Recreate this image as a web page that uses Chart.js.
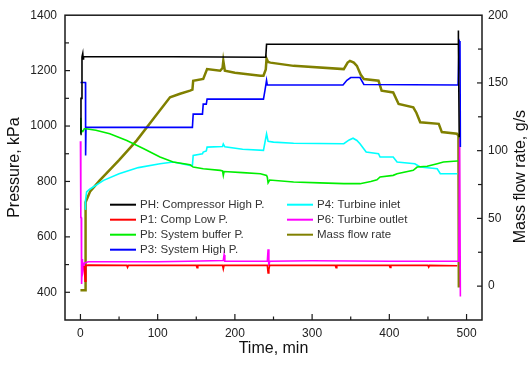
<!DOCTYPE html>
<html><head><meta charset="utf-8">
<script src="https://cdn.jsdelivr.net/npm/chart.js@4/dist/chart.umd.min.js"></script>
<style>html,body{margin:0;padding:0;background:#fff;}#wrap{width:530px;height:369px;position:relative;}</style>
</head><body><div id="wrap"><canvas id="c" width="530" height="369"></canvas></div>
<script>
// ---- data (time in min, pressure in kPa, mass flow in g/s) ----
const timePH  = [0, 0.7, 1.5, 2, 3, 3.5, 4, 60, 120, 180, 240, 241, 489, 489.3, 489.6, 490.5];
const pressPH = [970, 1100, 1100, 1250, 1262, 1242, 1250, 1250, 1250, 1249, 1248, 1295, 1295, 1345, 1300, 960];

const timeP1  = [5, 6, 7, 10, 60, 61, 62, 150, 151, 152, 184, 185, 186, 242, 243, 244, 245, 330, 331, 332, 400, 401, 402, 450, 451, 452, 488];
const pressP1 = [495, 440, 497, 498, 497, 490, 497, 497, 489, 497, 497, 484, 497, 497, 470, 482, 497, 497, 489, 497, 497, 490, 497, 497, 491, 497, 496];

const timePb  = [0, 0.5, 1, 3, 5, 7, 20, 38, 60, 82, 103, 120, 142, 146, 159, 181, 184, 185, 186, 210, 233, 241, 242, 243, 245, 276, 310, 341, 362, 376, 384, 388, 405, 410, 431, 436, 449, 462, 470, 488, 489];
const pressPb = [975, 1030, 985, 980, 990, 990, 985, 972, 948, 918, 888, 870, 860, 852, 846, 840, 838, 822, 836, 832, 828, 822, 815, 795, 805, 798, 795, 792, 792, 800, 806, 816, 822, 828, 840, 852, 855, 864, 870, 874, 874];

const timeP3  = [0, 6.5, 6.7, 7.2, 60, 145, 146, 158, 159, 163, 164, 237, 239, 241, 242, 340, 345, 350, 362, 367, 489, 490, 490.5, 491.5, 492];
const pressP3 = [1157, 1157, 894, 995, 995, 995, 1043, 1043, 1079, 1079, 1097, 1097, 1130, 1165, 1148, 1148, 1165, 1175, 1175, 1150, 1148, 1148, 1307, 1300, 924];

const timeP4  = [6, 6.5, 8, 12, 30, 50, 75, 103, 120, 142, 145, 146, 158, 159, 163, 164, 184, 185, 187, 210, 237, 241, 243, 250, 276, 341, 348, 353, 358, 362, 370, 386, 388, 405, 410, 433, 440, 462, 466, 488];
const pressP4 = [700, 730, 762, 772, 804, 828, 850, 864, 870, 858, 858, 894, 900, 906, 910, 924, 926, 935, 925, 916, 912, 972, 945, 942, 938, 936, 950, 956, 948, 936, 906, 900, 888, 888, 870, 864, 852, 846, 828, 828];

const timeP6  = [0, 0.5, 1, 1.5, 2.5, 3.5, 5, 10, 100, 140, 185, 186, 187, 242, 243, 244, 245, 300, 400, 488, 490, 491, 492];
const pressP6 = [945, 670, 670, 430, 520, 480, 505, 510, 510, 512, 515, 535, 512, 512, 555, 495, 512, 514, 512, 512, 512, 955, 385];

const timeFlow = [0, 6, 6.3, 7, 12.6, 25, 50, 73, 95, 116, 129, 142, 145, 146, 159, 164, 181, 184, 185, 187, 200, 233, 237, 240, 241, 243, 246, 276, 341, 346, 349, 354, 358, 363, 367, 386, 390, 405, 412, 431, 435, 440, 464, 468, 487.5, 489.5, 490, 492];
const massFlow = [-3, -3, 55, 62, 70, 78, 93, 107.6, 124, 139.4, 142, 144.3, 145, 151.6, 152.9, 160.2, 159, 161, 166.3, 159, 157.5, 155.3, 155.3, 160, 168, 165.5, 165, 162.6, 160.2, 165, 166.3, 165, 162.6, 156, 152.9, 151.6, 144.3, 143, 134.5, 132, 128, 121, 119.8, 113.7, 112.5, 111, 0, 0];

const xTickValues = [0, 100, 200, 300, 400, 500];
const leftTickValues = [400, 600, 800, 1000, 1200, 1400];
const rightTickValues = [0, 50, 100, 150, 200];

const seriesLabels = ['PH: Compressor High P.', 'P1: Comp Low P.', 'Pb: System buffer P.', 'P3: System High P.', 'P4: Turbine inlet', 'P6: Turbine outlet', 'Mass flow rate'];
const seriesColors = ['#000000', '#ff0000', '#00ee00', '#0000ff', '#00ffff', '#ff00ff', '#808000'];

// ---- build ----
const FONT = '"Liberation Sans", Arial, sans-serif';
const pts = (t, v) => t.map((x, i) => ({x: x, y: v[i]}));
const src = [[timePH, pressPH], [timeP1, pressP1], [timePb, pressPb], [timeP3, pressP3], [timeP4, pressP4], [timeP6, pressP6], [timeFlow, massFlow]];
const datasets = src.map((s, i) => ({
  label: seriesLabels[i],
  data: pts(s[0], s[1]),
  borderColor: seriesColors[i],
  backgroundColor: seriesColors[i],
  borderWidth: i === 6 ? 2.5 : 1.6,
  pointRadius: 0,
  tension: 0,
  fill: false,
  yAxisID: i === 6 ? 'y1' : 'y'
}));

const decor = {
  id: 'decor',
  afterDraw(chart) {
    const {ctx, chartArea: a, scales} = chart;
    const x = scales.x, y = scales.y, y1 = scales.y1;
    ctx.save();
    ctx.strokeStyle = '#1a1a1a';
    ctx.lineWidth = 1.5;
    ctx.strokeRect(a.left, a.top, a.right - a.left, a.bottom - a.top);
    ctx.lineWidth = 1.2;
    const seg = (x0, y0, x1, y1_) => { ctx.beginPath(); ctx.moveTo(x0, y0); ctx.lineTo(x1, y1_); ctx.stroke(); };
    for (let v = 0; v <= 500; v += 50) {
      const px = x.getPixelForValue(v);
      seg(px, a.bottom, px, a.bottom - (v % 100 === 0 ? 6 : 3.5));
    }
    for (let v = 400; v < 1400; v += 100) {
      const py = y.getPixelForValue(v);
      seg(a.left, py, a.left + (v % 200 === 0 ? 5 : 4), py);
    }
    for (let v = 0; v < 200; v += 25) {
      const py = y1.getPixelForValue(v);
      seg(a.right, py, a.right - (v % 50 === 0 ? 5 : 4), py);
    }
    // right axis title
    ctx.fillStyle = '#111';
    ctx.font = '16px ' + FONT;
    ctx.textAlign = 'center';
    ctx.textBaseline = 'middle';
    ctx.translate(chart.width - 9, (a.top + a.bottom) / 2 + 9);
    ctx.rotate(-Math.PI / 2);
    ctx.fillText('Mass flow rate, g/s', 0, 0);
    ctx.restore();

    // legend
    ctx.save();
    ctx.font = '11.5px ' + FONT;
    ctx.textBaseline = 'middle';
    ctx.textAlign = 'left';
    chart.data.datasets.forEach((ds, i) => {
      const col = i < 4 ? 0 : 1;
      const row = i < 4 ? i : i - 4;
      const lx = a.left + (col === 0 ? 45 : 222);
      const ly = a.top + 189.5 + row * 15;
      ctx.strokeStyle = ds.borderColor;
      ctx.lineWidth = 2;
      seg(lx, ly, lx + 26, ly);
      ctx.fillStyle = '#333';
      ctx.fillText(ds.label, lx + 30, ly);
    });
    ctx.restore();
  }
};

const tickFont = {family: FONT, size: 12};
const plain = v => String(v);
new Chart(document.getElementById('c'), {
  type: 'line',
  data: {datasets: datasets},
  plugins: [decor],
  options: {
    responsive: false,
    animation: false,
    events: [],
    layout: {padding: {top: 14, left: 0, right: 0, bottom: 0}},
    plugins: {legend: {display: false}, tooltip: {enabled: false}},
    scales: {
      x: {
        type: 'linear', min: -20, max: 520,
        afterBuildTicks: s => { s.ticks = xTickValues.map(v => ({value: v})); },
        afterFit: s => { s.height = 49; },
        grid: {display: false, drawTicks: false},
        border: {display: false},
        ticks: {font: tickFont, color: '#222', padding: 6, maxRotation: 0, callback: plain},
        title: {display: true, text: 'Time, min', font: {family: FONT, size: 16}, color: '#111', padding: {top: 0, bottom: 11}}
      },
      y: {
        type: 'linear', position: 'left', min: 300, max: 1400,
        afterBuildTicks: s => { s.ticks = leftTickValues.map(v => ({value: v})); },
        afterFit: s => { s.width = 65; },
        grid: {display: false, drawTicks: false},
        border: {display: false},
        ticks: {font: tickFont, color: '#222', padding: 8, callback: plain},
        title: {display: true, text: 'Pressure, kPa', font: {family: FONT, size: 16}, color: '#111', padding: {top: 5, bottom: 0}}
      },
      y1: {
        type: 'linear', position: 'right', min: -25, max: 200,
        afterBuildTicks: s => { s.ticks = rightTickValues.map(v => ({value: v})); },
        afterFit: s => { s.width = 48; },
        grid: {display: false, drawTicks: false},
        border: {display: false},
        ticks: {font: tickFont, color: '#222', padding: 6, callback: plain}
      }
    }
  }
});
</script></body></html>
